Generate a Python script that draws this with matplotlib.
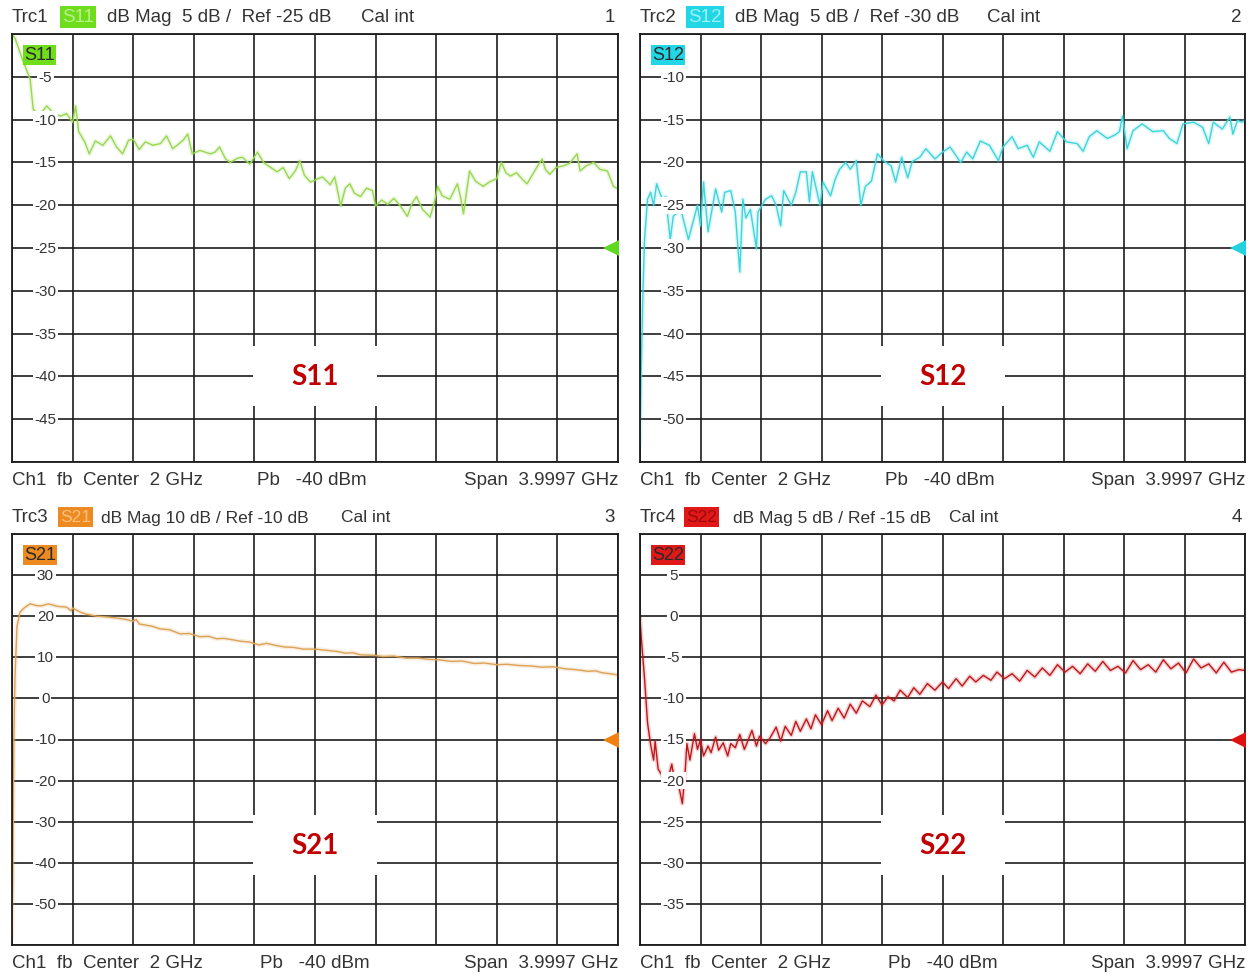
import numpy as np
import matplotlib.pyplot as plt
from matplotlib.patches import Rectangle
from matplotlib.transforms import blended_transform_factory

W, H = 1255, 979

# traces (frequency in GHz, magnitude in dB)
s11_f = [0.00, 0.02, 0.07, 0.12, 0.14, 0.18, 0.23, 0.27, 0.32, 0.36, 0.40, 0.42, 0.44, 0.48,
         0.51, 0.55, 0.60, 0.65, 0.69, 0.73, 0.77, 0.80, 0.84, 0.88, 0.93, 0.98, 1.02, 1.06,
         1.09, 1.13, 1.16, 1.19, 1.24, 1.31, 1.34, 1.37, 1.41, 1.44, 1.49, 1.52, 1.57, 1.62,
         1.66, 1.70, 1.75, 1.79, 1.83, 1.87, 1.90, 1.93, 1.97, 2.02, 2.05, 2.10, 2.13, 2.17,
         2.20, 2.23, 2.26, 2.30, 2.34, 2.38, 2.40, 2.44, 2.48, 2.52, 2.56, 2.61, 2.64, 2.67,
         2.71, 2.76, 2.79, 2.81, 2.84, 2.89, 2.94, 2.96, 2.98, 3.02, 3.06, 3.11, 3.15, 3.20,
         3.23, 3.26, 3.29, 3.33, 3.37, 3.40, 3.44, 3.47, 3.50, 3.52, 3.55, 3.59, 3.64, 3.68,
         3.73, 3.75, 3.79, 3.84, 3.88, 3.93, 3.97, 4.00]
s11_db = [0.0, -0.5, -3.0, -5.3, -8.8, -9.5, -8.4, -9.2, -9.6, -9.3, -10.3, -8.4, -11.4, -12.6,
          -14.0, -12.5, -13.0, -11.9, -13.2, -14.0, -12.4, -12.3, -13.5, -12.6, -13.0, -12.8, -11.9, -13.4,
          -13.0, -12.4, -11.7, -14.0, -13.6, -14.0, -13.8, -13.2, -14.6, -15.0, -14.5, -14.4, -15.2, -13.8,
          -15.0, -15.5, -16.1, -15.6, -16.9, -16.0, -14.8, -16.5, -17.3, -16.9, -16.7, -17.6, -16.7, -20.1,
          -18.0, -17.5, -18.6, -19.0, -18.0, -18.3, -20.1, -19.4, -19.9, -19.2, -20.0, -21.3, -19.8, -19.0,
          -20.5, -21.4, -19.5, -17.8, -18.9, -19.3, -17.5, -19.0, -21.0, -16.0, -17.2, -17.8, -17.3, -16.9,
          -15.0, -16.2, -16.6, -16.2, -17.0, -17.5, -16.3, -15.4, -14.6, -15.8, -16.4, -15.6, -15.4, -15.1,
          -14.0, -16.0, -15.4, -15.0, -15.8, -16.0, -17.8, -18.1]

s12_f = [0.000, 0.007, 0.02, 0.03, 0.05, 0.07, 0.09, 0.11, 0.13, 0.15, 0.17, 0.20, 0.22, 0.25,
         0.27, 0.32, 0.35, 0.38, 0.40, 0.42, 0.45, 0.50, 0.54, 0.56, 0.60, 0.63, 0.66, 0.68,
         0.70, 0.73, 0.77, 0.78, 0.83, 0.87, 0.90, 0.93, 0.95, 1.00, 1.03, 1.06, 1.10, 1.12,
         1.14, 1.19, 1.21, 1.26, 1.29, 1.32, 1.36, 1.39, 1.43, 1.46, 1.49, 1.53, 1.57, 1.61,
         1.66, 1.69, 1.73, 1.77, 1.80, 1.85, 1.89, 1.95, 2.00, 2.05, 2.12, 2.16, 2.20, 2.25,
         2.31, 2.37, 2.40, 2.46, 2.50, 2.56, 2.60, 2.64, 2.71, 2.76, 2.82, 2.89, 2.93, 2.97,
         3.02, 3.09, 3.14, 3.17, 3.19, 3.22, 3.26, 3.32, 3.39, 3.46, 3.50, 3.55, 3.59, 3.66,
         3.72, 3.76, 3.79, 3.85, 3.90, 3.92, 3.95, 3.98, 4.00]
s12_db = [-53.0, -45.0, -34.8, -29.0, -24.3, -23.5, -25.0, -22.5, -23.5, -24.3, -24.0, -29.0, -26.3, -25.8,
          -25.5, -29.0, -27.0, -25.0, -27.4, -22.3, -28.1, -23.1, -25.8, -23.5, -23.3, -25.8, -32.8, -24.3,
          -26.5, -25.5, -30.1, -25.8, -24.3, -23.9, -25.0, -27.4, -23.3, -25.0, -23.5, -21.1, -21.1, -24.6,
          -21.1, -25.0, -22.3, -23.9, -22.0, -20.8, -20.0, -20.8, -19.8, -25.0, -22.8, -22.2, -19.0, -19.8,
          -20.4, -22.3, -19.4, -21.8, -19.9, -19.4, -18.4, -19.6, -18.8, -18.2, -20.0, -18.8, -19.6, -17.5,
          -18.0, -19.8, -18.2, -17.0, -18.4, -18.0, -19.4, -17.6, -18.7, -16.4, -17.6, -17.8, -18.7, -17.0,
          -16.3, -17.2, -16.8, -16.4, -14.6, -18.4, -16.3, -15.5, -16.4, -16.3, -17.2, -17.8, -15.5, -15.3,
          -15.9, -17.8, -15.3, -16.1, -14.7, -16.7, -15.1, -15.3, -15.0]

s21_f = [0.000, 0.005, 0.012, 0.020, 0.033, 0.053, 0.08, 0.12, 0.16, 0.19, 0.24, 0.30, 0.36, 0.39,
         0.40, 0.45, 0.49, 0.56, 0.63, 0.68, 0.74, 0.80, 0.82, 0.84, 0.92, 0.98, 1.04, 1.11,
         1.17, 1.24, 1.30, 1.35, 1.40, 1.45, 1.51, 1.57, 1.63, 1.68, 1.74, 1.80, 1.86, 1.92,
         2.00, 2.05, 2.10, 2.15, 2.20, 2.25, 2.30, 2.38, 2.45, 2.52, 2.60, 2.68, 2.75, 2.82,
         2.90, 2.97, 3.05, 3.12, 3.20, 3.27, 3.35, 3.42, 3.50, 3.57, 3.65, 3.72, 3.80, 3.85,
         3.90, 3.95, 4.00]
s21_db = [-58.0, -45.0, -10.0, 5.5, 17.6, 21.0, 22.0, 23.0, 22.6, 22.5, 23.0, 22.4, 22.2, 21.3,
          22.0, 21.0, 20.5, 20.0, 19.8, 19.6, 19.3, 18.8, 19.2, 18.1, 17.6, 16.9, 16.7, 15.7,
          15.8, 15.0, 15.1, 14.5, 14.6, 14.3, 13.9, 13.7, 13.0, 13.4, 12.9, 12.5, 12.4, 12.0,
          12.0, 11.8, 11.6, 11.4, 11.0, 11.1, 10.6, 10.5, 10.2, 10.3, 9.8, 9.8, 9.5, 9.4,
          9.0, 9.1, 8.5, 8.6, 8.2, 8.3, 8.0, 7.9, 7.6, 7.7, 7.2, 7.0, 6.6, 6.7,
          6.2, 6.0, 5.7]

s22_f = [0.00, 0.01, 0.03, 0.05, 0.07, 0.09, 0.10, 0.12, 0.14, 0.17, 0.19, 0.21, 0.23, 0.26,
         0.28, 0.30, 0.31, 0.33, 0.36, 0.38, 0.40, 0.42, 0.45, 0.47, 0.50, 0.52, 0.55, 0.58,
         0.60, 0.63, 0.66, 0.69, 0.71, 0.74, 0.77, 0.79, 0.83, 0.86, 0.90, 0.93, 0.96, 1.00,
         1.03, 1.06, 1.10, 1.13, 1.16, 1.20, 1.24, 1.27, 1.31, 1.35, 1.39, 1.43, 1.47, 1.52,
         1.56, 1.60, 1.64, 1.68, 1.72, 1.77, 1.81, 1.85, 1.90, 1.95, 2.00, 2.04, 2.09, 2.13,
         2.18, 2.22, 2.27, 2.32, 2.36, 2.41, 2.46, 2.51, 2.56, 2.61, 2.66, 2.71, 2.76, 2.81,
         2.86, 2.91, 2.96, 3.01, 3.06, 3.11, 3.16, 3.21, 3.26, 3.31, 3.36, 3.41, 3.46, 3.51,
         3.56, 3.61, 3.66, 3.71, 3.76, 3.81, 3.86, 3.91, 3.96, 4.00]
s22_db = [-0.3, -3.0, -7.6, -13.0, -15.6, -17.5, -15.2, -18.6, -19.2, -20.4, -19.5, -18.0, -20.2, -21.0,
          -22.8, -18.5, -15.5, -17.5, -14.3, -16.2, -15.0, -17.0, -15.8, -16.6, -14.7, -16.3, -15.4, -17.0,
          -15.5, -16.0, -14.4, -16.2, -15.3, -13.9, -15.8, -14.6, -15.5, -14.8, -13.5, -15.2, -13.4, -14.5,
          -12.8, -14.0, -12.5, -13.7, -12.0, -13.2, -11.5, -12.7, -11.2, -12.4, -10.7, -11.8, -10.3, -11.0,
          -9.6, -10.8, -9.8, -10.3, -9.0, -9.9, -8.7, -9.5, -8.2, -9.0, -8.0, -8.8, -7.6, -8.5,
          -7.3, -8.0, -7.2, -7.8, -6.8, -7.6, -7.0, -7.9, -6.6, -7.4, -6.3, -7.2, -5.9, -6.8,
          -6.1, -7.0, -5.8, -6.7, -5.5, -6.6, -6.1, -6.9, -5.4, -6.5, -5.9, -6.8, -5.3, -6.4,
          -5.7, -6.9, -5.2, -6.3, -5.8, -6.9, -5.6, -6.8, -6.5, -6.6]

names = ['S11', 'S12', 'S21', 'S22']
traces = ['Trc1', 'Trc2', 'Trc3', 'Trc4']
scale_db = [5, 5, 10, 5]
ref_db = [-25, -30, -10, -15]
trace_f = [s11_f, s12_f, s21_f, s22_f]
trace_db = [s11_db, s12_db, s21_db, s22_db]
header_txt = ['dB Mag  5 dB /  Ref -25 dB', 'dB Mag  5 dB /  Ref -30 dB',
              'dB Mag 10 dB / Ref -10 dB', 'dB Mag 5 dB / Ref -15 dB']
header_fs = [13.5, 13.5, 12.5, 12.5]

line_cols = ['#98d850', '#3ed4dc', '#dca257', '#c0161a']
tag_bg = ['#6fdc1c', '#22d6e6', '#ee8a22', '#e01818']
tag_fg = ['#b8f08a', '#9cf2f8', '#f8c27e', '#9a0c0c']
ref_cols = ['#5fd820', '#22d2e0', '#f08010', '#e01010']

# pixel boxes of each diagram: left, top, right, bottom
boxes = [(12, 35, 618, 463), (640, 35, 1245, 463),
         (12, 535, 618, 946), (640, 535, 1245, 946)]
# header pieces x positions: Trc, tag, text, Cal int, number
hdr_x = [(12, 62, 107, 361, 618), (640, 688, 735, 987, 1245),
         (12, 60, 101, 341, 618), (640, 686, 733, 949, 1245)]
pb_x = [257, 885, 260, 888]

txt = '#333333'
gridc = '#1c1c1c'
fs = 13.5
fam = ['Liberation Sans', 'DejaVu Sans']

fig = plt.figure(figsize=(W / 100, H / 100), dpi=100)
fig.patch.set_facecolor('white')


def fx(x):
    return x / W


def fy(y):
    return 1 - y / H


for i in range(4):
    l, t, r, b = boxes[i]
    ax = fig.add_axes([fx(l), fy(b), (r - l) / W, (b - t) / H])
    top = ref_db[i] + 5 * scale_db[i]
    bot = ref_db[i] - 5 * scale_db[i]
    ax.set_xlim(0, 4)
    ax.set_ylim(bot, top)
    ax.set_xticks(np.linspace(0, 4, 11))
    ax.set_yticks(np.arange(bot, top + scale_db[i], scale_db[i]))
    ax.tick_params(length=0, labelleft=False, labelbottom=False)
    ax.grid(True, color=gridc, lw=1.2)
    for s in ax.spines.values():
        s.set_color(gridc)
        s.set_linewidth(1.3)

    # trace with a faint glow
    ax.plot(trace_f[i], trace_db[i], color=line_cols[i], lw=3.2, alpha=0.18, zorder=2.4)
    ax.plot(trace_f[i], trace_db[i], color=line_cols[i], lw=1.0, zorder=2.5)

    # scale labels inside the grid
    tr = blended_transform_factory(ax.transAxes, ax.transData)
    for v in np.arange(bot + scale_db[i], top, scale_db[i]):
        ax.text(0.055, v, f'{v:g}', transform=tr, ha='center', va='center',
                fontsize=11, color=txt, family=fam, zorder=3,
                bbox=dict(facecolor='white', edgecolor='none', pad=1.2))

    # reference level marker
    ax.plot([3.955], [ref_db[i]], marker='<', markersize=11, color=ref_cols[i],
            markeredgewidth=0, clip_on=False, zorder=4)

    # trace tag in the corner
    ty = 1 - 21 / (b - t)
    ax.text(0.02, ty, names[i], transform=ax.transAxes, ha='left', va='center',
            fontsize=13, color='#2a2a2a', family=fam, zorder=4,
            bbox=dict(facecolor=tag_bg[i], edgecolor='none', pad=0.8))

    # big label with white box
    cy = 0.2009 if i < 2 else 0.2433
    bw = 124 / (r - l)
    bh = 60 / (b - t)
    ax.add_patch(Rectangle((0.5 - bw / 2, cy - bh / 2), bw, bh, transform=ax.transAxes,
                           facecolor='white', edgecolor='none', zorder=3))
    ax.text(0.5, cy, names[i], transform=ax.transAxes, ha='center', va='center',
            fontsize=20, fontweight='bold', color='#c00000', family=['Lato', 'DejaVu Sans'],
            zorder=4)

    # header line
    hy = fy(t - 17)
    x0, x1, x2, x3, x4 = hdr_x[i]
    fig.text(fx(x0), hy, traces[i], ha='left', va='center', fontsize=fs, color=txt, family=fam)
    fig.text(fx(x1), hy, names[i], ha='left', va='center', fontsize=header_fs[i], color=tag_fg[i],
             family=fam, bbox=dict(facecolor=tag_bg[i], edgecolor='none', pad=1.6))
    fig.text(fx(x2), hy, header_txt[i], ha='left', va='center', fontsize=header_fs[i],
             color=txt, family=fam)
    fig.text(fx(x3), hy, 'Cal int', ha='left', va='center', fontsize=header_fs[i],
             color=txt, family=fam)
    fig.text(fx(x4 - 3), hy, str(i + 1), ha='right', va='center', fontsize=fs, color=txt, family=fam)

    # footer line
    by = fy(b + 18)
    fig.text(fx(l), by, 'Ch1  fb  Center  2 GHz', ha='left', va='center', fontsize=fs,
             color=txt, family=fam)
    fig.text(fx(pb_x[i]), by, 'Pb   -40 dBm', ha='left', va='center', fontsize=fs,
             color=txt, family=fam)
    fig.text(fx(r), by, 'Span  3.9997 GHz', ha='right', va='center', fontsize=fs,
             color=txt, family=fam)

fig.savefig('out.png', dpi=100, facecolor='white')
